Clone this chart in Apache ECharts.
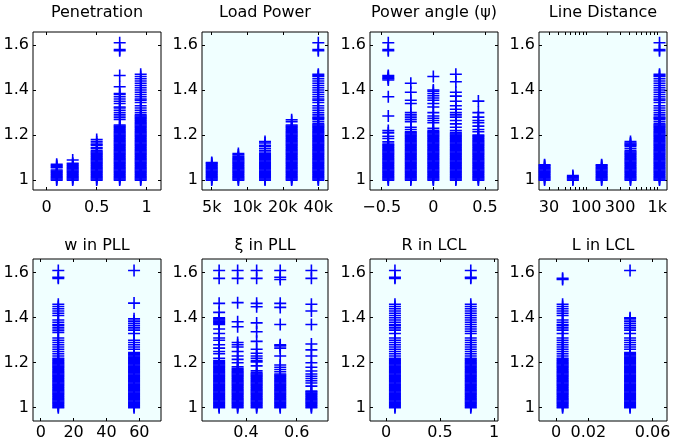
<!DOCTYPE html>
<html>
<head>
<meta charset="utf-8">
<script src="https://cdn.jsdelivr.net/npm/echarts@6/dist/echarts.min.js"></script>
<style>
  html, body { margin: 0; padding: 0; background: #fff; }
  #main { width: 674px; height: 447px; }
</style>
</head>
<body>
<div id="main"></div>
<script>
// dense bands of y values that most columns share (step 0.005)
var b1 = [1, 1.005, 1.01, 1.015, 1.02, 1.025, 1.03, 1.035, 1.04, 1.045];
var b2 = [1.05, 1.055, 1.06, 1.065, 1.07, 1.075, 1.08, 1.085, 1.09, 1.095];
var b3 = [1.1, 1.105, 1.11, 1.115, 1.12, 1.125, 1.13, 1.135, 1.14, 1.145];
var b4 = [1.15, 1.155, 1.16, 1.165, 1.17, 1.175, 1.18, 1.185, 1.19, 1.195];
var b5 = [1.2, 1.205, 1.21, 1.215, 1.22, 1.225, 1.23, 1.235, 1.24, 1.245];
var b6 = [1.25, 1.255, 1.26, 1.265, 1.27, 1.275, 1.28, 1.285, 1.29];

var yTicks = [1, 1.2, 1.4, 1.6];

// Penetration
var penX = [0.1, 0.26, 0.5, 0.73, 0.94];
var penY = [
  [].concat(b1, [1.055, 1.06, 1.065, 1.07]),
  [].concat(b1, [1.05, 1.055, 1.06, 1.065, 1.07, 1.075, 1.089]),
  [].concat(b1, b2, [1.1, 1.105, 1.11, 1.115, 1.12, 1.125, 1.13, 1.14, 1.145, 1.155, 1.16, 1.17, 1.18]),
  [].concat(b1, b2, b3, b4, b5, [1.27, 1.28, 1.29, 1.3, 1.31, 1.32, 1.325, 1.34, 1.35, 1.36, 1.37, 1.38, 1.385, 1.415, 1.465, 1.575, 1.58, 1.61]),
  [].concat(b1, b2, b3, b4, b5, b6, [1.3, 1.31, 1.32, 1.33, 1.345, 1.355, 1.36, 1.37, 1.38, 1.39, 1.4, 1.41, 1.42, 1.43, 1.44, 1.45, 1.46, 1.47])
];
var penTicks = [0, 0.5, 1];

// Load Power
var loadX = [5000, 8409, 14142, 23784, 40000];
var loadY = [
  [].concat(b1, [1.05, 1.055, 1.06, 1.065, 1.07, 1.075, 1.078]),
  [].concat(b1, b2, [1.1, 1.105, 1.112, 1.118]),
  [].concat(b1, b2, [1.1, 1.105, 1.11, 1.115, 1.12, 1.13, 1.14, 1.15, 1.155, 1.165, 1.171]),
  [].concat(b1, b2, b3, b4, b5, [1.26, 1.268]),
  [].concat(b1, b2, b3, b4, b5, [1.25, 1.26, 1.27, 1.275, 1.28, 1.29, 1.3, 1.31, 1.32, 1.33, 1.345, 1.355, 1.36, 1.37, 1.38, 1.39, 1.4, 1.41, 1.42, 1.43, 1.44, 1.45, 1.46, 1.465, 1.47, 1.575, 1.58, 1.61])
];
var loadTicks = [5000, 10000, 20000, 40000];
var loadLabels = ['5k', '10k', '20k', '40k'];

// Power angle (psi)
var angX = [-0.436, -0.218, 0, 0.218, 0.436];
var angY = [
  [].concat(b1, b2, b3, [1.15, 1.155, 1.16, 1.17, 1.185, 1.195, 1.21, 1.22, 1.285, 1.37, 1.445, 1.45, 1.455, 1.46, 1.465, 1.575, 1.58, 1.61]),
  [].concat(b1, b2, b3, b4, [1.2, 1.205, 1.21, 1.215, 1.225, 1.235, 1.26, 1.27, 1.28, 1.29, 1.3, 1.34, 1.355, 1.39, 1.43]),
  [].concat(b1, b2, b3, b4, [1.2, 1.205, 1.21, 1.215, 1.22, 1.23, 1.255, 1.265, 1.275, 1.285, 1.3, 1.325, 1.34, 1.355, 1.365, 1.375, 1.385, 1.395, 1.4, 1.46]),
  [].concat(b1, b2, b3, b4, [1.2, 1.205, 1.21, 1.22, 1.235, 1.25, 1.265, 1.28, 1.29, 1.3, 1.315, 1.33, 1.35, 1.373, 1.39, 1.437, 1.47]),
  [].concat(b1, b2, b3, b4, [1.2, 1.215, 1.225, 1.24, 1.255, 1.265, 1.28, 1.3, 1.351])
];
var angTicks = [-0.5, 0, 0.5];

// Line Distance
var lineX = [26, 65, 165, 420, 1075];
var lineY = [
  [].concat(b1, [1.05, 1.055, 1.06, 1.065, 1.068]),
  [1, 1.005, 1.01, 1.015, 1.02],
  [].concat(b1, [1.05, 1.055, 1.06, 1.065, 1.068]),
  [].concat(b1, b2, [1.1, 1.105, 1.11, 1.115, 1.12, 1.125, 1.13, 1.14, 1.15, 1.155, 1.16, 1.165, 1.171]),
  [].concat(b1, b2, b3, b4, b5, [1.25, 1.26, 1.27, 1.275, 1.28, 1.29, 1.3, 1.31, 1.32, 1.33, 1.345, 1.355, 1.36, 1.37, 1.38, 1.39, 1.4, 1.41, 1.42, 1.43, 1.44, 1.45, 1.46, 1.465, 1.47, 1.575, 1.58, 1.61])
];
var lineTicks = [30, 40, 50, 60, 70, 80, 90, 100, 200, 300, 400, 500, 600, 700, 800, 900, 1000];
var lineLabelTicks = [30, 100, 300, 1000];
var lineLabels = ['30', '100', '300', '1k'];

// w in PLL
var wX = [10.7, 56.8];
var wY = [
  [].concat(b1, b2, b3, b4, [1.2, 1.205, 1.21, 1.215, 1.22, 1.23, 1.24, 1.25, 1.26, 1.27, 1.28, 1.29, 1.3, 1.31, 1.335, 1.345, 1.355, 1.365, 1.37, 1.38, 1.39, 1.41, 1.42, 1.43, 1.44, 1.45, 1.46, 1.575, 1.58, 1.61]),
  [].concat(b1, b2, b3, b4, b5, [1.26, 1.27, 1.28, 1.29, 1.3, 1.33, 1.345, 1.355, 1.365, 1.375, 1.385, 1.395, 1.465, 1.61])
];
var wTicks = [0, 20, 40, 60];

// xi in PLL
var xiX = [0.294, 0.367, 0.442, 0.535, 0.658];
var xiY = [
  [].concat(b1, b2, b3, b4, [1.2, 1.205, 1.21, 1.22, 1.24, 1.25, 1.265, 1.28, 1.3, 1.31, 1.33, 1.35, 1.37, 1.375, 1.38, 1.385, 1.39, 1.395, 1.4, 1.424, 1.464, 1.575, 1.61]),
  [].concat(b1, b2, b3, [1.15, 1.155, 1.16, 1.165, 1.17, 1.175, 1.182, 1.2, 1.215, 1.23, 1.25, 1.27, 1.28, 1.29, 1.36, 1.382, 1.467, 1.575, 1.61]),
  [].concat(b1, b2, b3, [1.15, 1.155, 1.164, 1.186, 1.204, 1.21, 1.22, 1.23, 1.242, 1.26, 1.295, 1.338, 1.377, 1.449, 1.464, 1.575, 1.61]),
  [].concat(b1, b2, b3, [1.15, 1.16, 1.17, 1.18, 1.19, 1.23, 1.265, 1.275, 1.28, 1.37, 1.446, 1.464, 1.57, 1.58, 1.61]),
  [].concat(b1, [1.05, 1.055, 1.06, 1.065, 1.07, 1.074, 1.096, 1.11, 1.12, 1.13, 1.14, 1.15, 1.163, 1.18, 1.2, 1.23, 1.257, 1.283, 1.37, 1.43, 1.46, 1.575, 1.61])
];
var xiTicks = [0.4, 0.6];

// R in LCL
var rX = [0.083, 0.785];
var rY = [
  [].concat(b1, b2, b3, b4, [1.2, 1.205, 1.21, 1.215, 1.22, 1.23, 1.24, 1.25, 1.26, 1.27, 1.28, 1.29, 1.3, 1.31, 1.33, 1.345, 1.355, 1.365, 1.37, 1.38, 1.39, 1.4, 1.41, 1.42, 1.43, 1.44, 1.45, 1.46, 1.575, 1.58, 1.61]),
  [].concat(b1, b2, b3, b4, [1.2, 1.205, 1.21, 1.215, 1.22, 1.23, 1.24, 1.25, 1.26, 1.27, 1.28, 1.29, 1.3, 1.31, 1.33, 1.34, 1.35, 1.36, 1.37, 1.38, 1.39, 1.4, 1.41, 1.42, 1.43, 1.44, 1.45, 1.46, 1.575, 1.58, 1.61])
];
var rTicks = [0, 0.5, 1];

// L in LCL
var lX = [0.004, 0.046];
var lY = [
  [].concat(b1, b2, b3, b4, [1.2, 1.205, 1.21, 1.215, 1.22, 1.23, 1.24, 1.25, 1.26, 1.27, 1.28, 1.29, 1.3, 1.31, 1.33, 1.345, 1.355, 1.365, 1.37, 1.38, 1.39, 1.41, 1.42, 1.43, 1.44, 1.45, 1.46, 1.57, 1.575]),
  [].concat(b1, b2, b3, b4, b5, [1.26, 1.27, 1.28, 1.29, 1.3, 1.31, 1.33, 1.345, 1.355, 1.365, 1.375, 1.385, 1.395, 1.4, 1.61])
];
var lTicks = [0, 0.02, 0.04, 0.06];

var panels = [
  {title: 'Penetration', xs: penX, ys: penY, type: 'value', min: -0.137, max: 1.143, ticks: penTicks, bg: '#ffffff'},
  {title: 'Load Power', xs: loadX, ys: loadY, type: 'log', min: 4135, max: 48330, ticks: loadTicks, labelTicks: loadTicks, labels: loadLabels, bg: '#f0ffff'},
  {title: 'Power angle (\u03c8)', xs: angX, ys: angY, type: 'value', min: -0.613, max: 0.626, ticks: angTicks, bg: '#f0ffff'},
  {title: 'Line Distance', xs: lineX, ys: lineY, type: 'log', min: 21.7, max: 1370, ticks: lineTicks, labelTicks: lineLabelTicks, labels: lineLabels, bg: '#f0ffff'},
  {title: 'w in PLL', xs: wX, ys: wY, type: 'value', min: -4.7, max: 73.2, ticks: wTicks, bg: '#f0ffff'},
  {title: '\u03be in PLL', xs: xiX, ys: xiY, type: 'value', min: 0.2264, max: 0.7235, ticks: xiTicks, bg: '#f0ffff'},
  {title: 'R in LCL', xs: rX, ys: rY, type: 'value', min: -0.148, max: 1.037, ticks: rTicks, bg: '#f0ffff'},
  {title: 'L in LCL', xs: lX, ys: lY, type: 'value', min: -0.0107, max: 0.069, ticks: lTicks, bg: '#f0ffff'}
];

var cellLeft = [33, 202, 370, 539];
var cellWidth = [128, 126, 128, 128];
var rowTop = [32, 259];
var rowHeight = [158, 162];
var rowYMin = [0.956, 0.941];
var rowYMax = [1.658, 1.661];
var rowTitleY = [12.5, 245.5];
var rowLabelMargin = [10, 4];

var PLUS = 'path://M-1.6,-12H1.6V-1.6H12V1.6H1.6V12H-1.6V1.6H-12V-1.6H-1.6Z';
var FONT = 'DejaVu Sans';

function labelFormatter(p) {
  return function (v) {
    if (p.labels) {
      var best = 0;
      for (var k = 1; k < p.labelTicks.length; k++) {
        if (Math.abs(p.labelTicks[k] - v) < Math.abs(p.labelTicks[best] - v)) best = k;
      }
      return p.labels[best];
    }
    return String(v).replace('-', '\u2212');
  };
}

var option = {
  animation: false,
  backgroundColor: '#ffffff',
  grid: [], xAxis: [], yAxis: [], series: [], graphic: []
};

panels.forEach(function (p, i) {
  var row = i < 4 ? 0 : 1;
  var col = i % 4;
  option.grid.push({
    left: cellLeft[col], top: rowTop[row], width: cellWidth[col], height: rowHeight[row],
    show: true, backgroundColor: p.bg, borderColor: '#000', borderWidth: 1,
    containLabel: false, outerBoundsMode: 'none'
  });
  ['bottom', 'top'].forEach(function (pos) {
    option.xAxis.push({
      gridIndex: i, type: p.type, min: p.min, max: p.max, position: pos,
      axisLine: {show: false, onZero: false}, splitLine: {show: false},
      axisTick: {show: true, inside: true, length: 3, customValues: p.ticks, lineStyle: {color: '#000'}},
      axisLabel: {
        show: pos === 'bottom', customValues: p.labelTicks || p.ticks, formatter: labelFormatter(p),
        margin: rowLabelMargin[row], color: '#000', fontFamily: FONT, fontSize: 16,
        hideOverlap: false, showMinLabel: true, showMaxLabel: true
      }
    });
  });
  ['left', 'right'].forEach(function (pos) {
    option.yAxis.push({
      gridIndex: i, type: 'value', min: rowYMin[row], max: rowYMax[row], position: pos,
      axisLine: {show: false, onZero: false}, splitLine: {show: false},
      axisTick: {show: true, inside: true, length: 3, customValues: yTicks, lineStyle: {color: '#000'}},
      axisLabel: {
        show: pos === 'left', customValues: yTicks, margin: 4,
        color: '#000', fontFamily: FONT, fontSize: 16
      }
    });
  });
  var pts = [];
  p.xs.forEach(function (x, c) {
    p.ys[c].forEach(function (y) { pts.push([x, y]); });
  });
  option.series.push({
    type: 'scatter', xAxisIndex: 2 * i, yAxisIndex: 2 * i,
    symbol: PLUS, symbolSize: 12, silent: true,
    itemStyle: {color: '#0000ff', opacity: 1},
    data: pts
  });
  option.graphic.push({
    type: 'text', x: cellLeft[col] + cellWidth[col] / 2, y: rowTitleY[row],
    style: {text: p.title, align: 'center', verticalAlign: 'middle', fill: '#000', fontFamily: FONT, fontSize: 16}
  });
});

var chart = echarts.init(document.getElementById('main'));
chart.setOption(option);
</script>
</body>
</html>
